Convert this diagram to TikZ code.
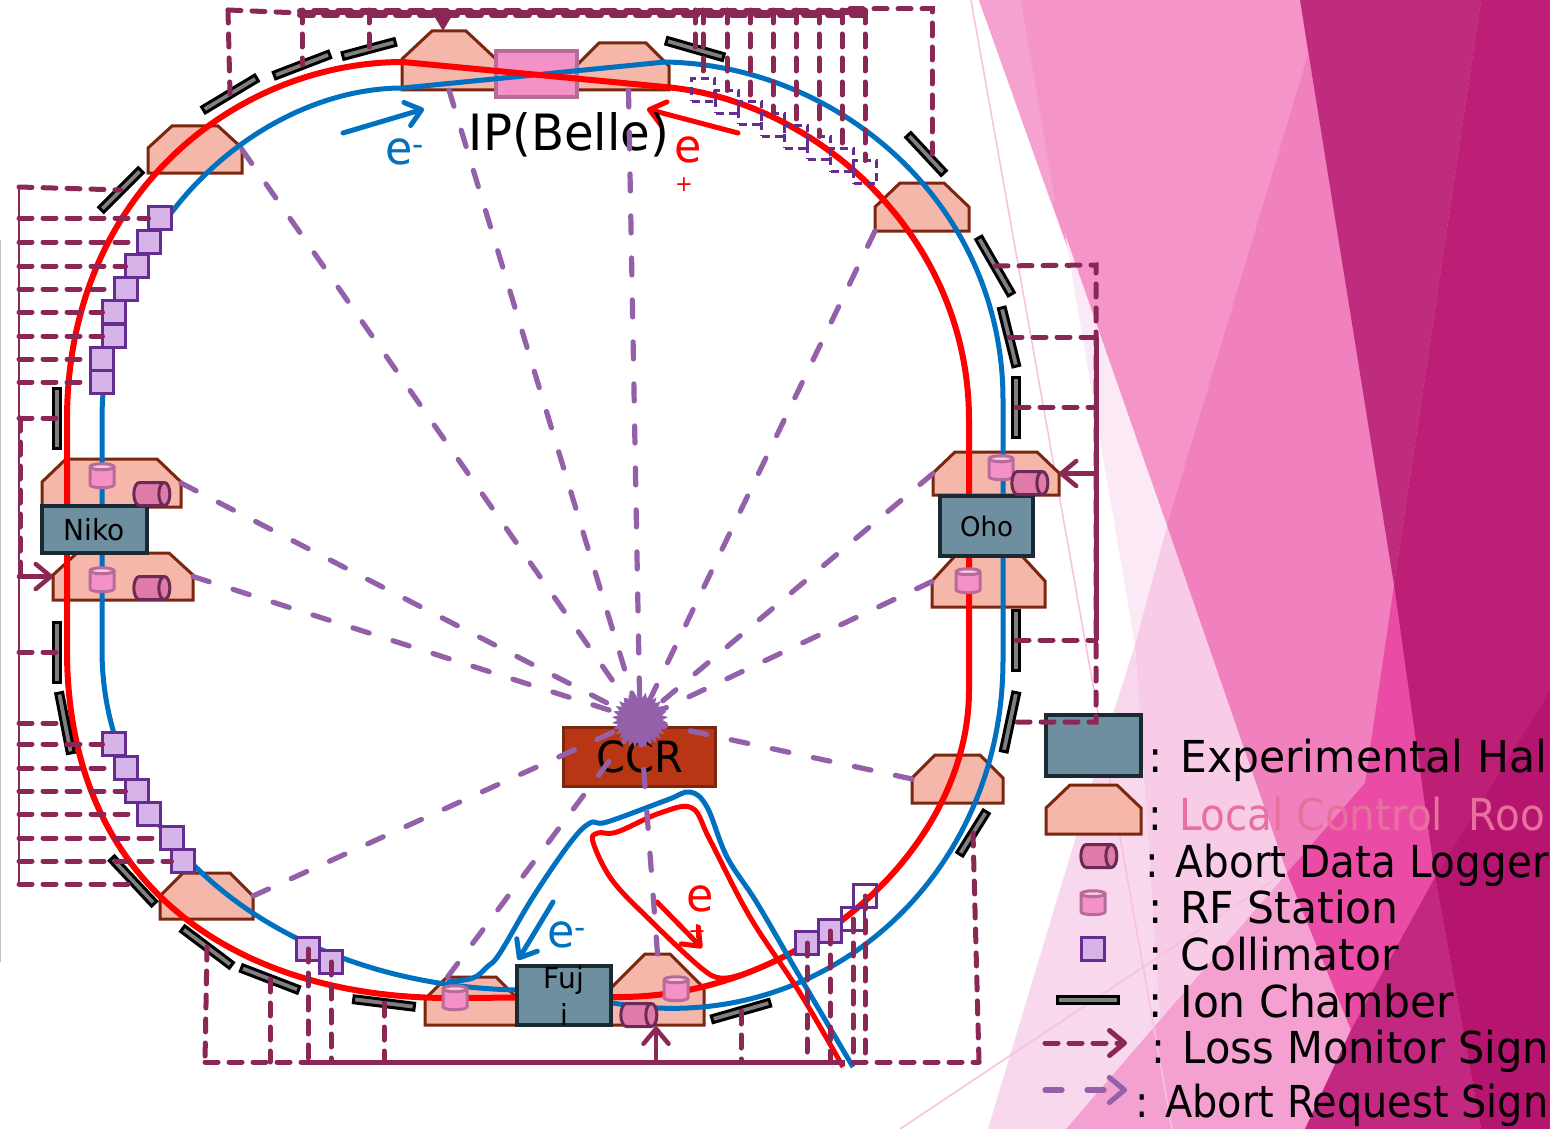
\documentclass[tikz,border=0pt]{standalone}
\usepackage{fontspec}
\setmainfont[FakeStretch=0.965]{DejaVu Sans}
\newfontfamily\keyabort[FakeStretch=0.905]{DejaVu Sans}
\newfontfamily\keyadl[FakeStretch=0.92]{DejaVu Sans}
\newfontfamily\keyloss[FakeStretch=0.945]{DejaVu Sans}
\usetikzlibrary{shapes.geometric,arrows.meta,positioning,calc}
\definecolor{lcrfill}{HTML}{F5B7A9}
\definecolor{lcrborder}{HTML}{7B2710}
\definecolor{hallfill}{HTML}{6E8FA0}
\definecolor{hallborder}{HTML}{1B2A32}
\definecolor{ccrfill}{HTML}{B93614}
\definecolor{rffill}{HTML}{F492C8}
\definecolor{rftop}{HTML}{F8C8DC}
\definecolor{rfborder}{HTML}{B86A9A}
\definecolor{adlfill}{HTML}{E07AA8}
\definecolor{adlborder}{HTML}{6B2A55}
\definecolor{cmfill}{HTML}{D6B4EA}
\definecolor{cmborder}{HTML}{662D91}
\definecolor{lossline}{HTML}{8B2755}
\definecolor{abortline}{HTML}{9460AA}
\definecolor{herblue}{HTML}{0070C0}
\definecolor{keypink}{HTML}{E8709F}
\definecolor{bgpink}{HTML}{F494C9}
\definecolor{bgsliver}{HTML}{F6A2D1}
\definecolor{bgrose}{HTML}{F180BE}
\definecolor{bgfaint}{HTML}{FBEAF5}
\definecolor{bgmid}{HTML}{F8CBE6}
\definecolor{bgpale}{HTML}{F8D8EC}
\definecolor{bglight}{HTML}{F4A0D0}
\definecolor{bgmagenta}{HTML}{EA4CA5}
\definecolor{bgwine}{HTML}{C22880}
\definecolor{bgplum}{HTML}{BF2C7E}
\definecolor{bgdeep}{HTML}{BC1F75}
\definecolor{bgdark}{HTML}{B5146F}
\definecolor{bgthin}{HTML}{F8C0E0}
\tikzset{
  lcroom/.style n args={4}{minimum width=#1pt,minimum height=#2pt,inner sep=0pt,outer sep=0pt,
    append after command={\pgfextra{\draw[draw=lcrborder,fill=lcrfill,line width=3pt]
      ([yshift=-#4pt]\tikzlastnode.north west) -- ([xshift=#3pt]\tikzlastnode.north west)
      -- ([xshift=-#3pt]\tikzlastnode.north east) -- ([yshift=-#4pt]\tikzlastnode.north east)
      -- (\tikzlastnode.south east) -- (\tikzlastnode.south west) -- cycle;}}},
  hall/.style={draw=hallborder,fill=hallfill,line width=3.5pt,inner sep=0pt,outer sep=0pt,
    align=center,font=\fontsize{29}{37}\selectfont},
  ionchamber/.style={draw=black,fill=gray,line width=3pt,minimum height=7pt,
    minimum width=60pt,inner sep=0pt,outer sep=0pt},
  collimator/.style={draw=cmborder,fill=cmfill,line width=3pt,minimum size=23pt,
    inner sep=0pt,outer sep=0pt},
  cmdashed/.style={collimator,fill=none,line width=2.5pt,dash pattern=on 8pt off 5pt},
  rfstation/.style={cylinder,shape border rotate=90,aspect=1,draw=rfborder,line width=3pt,
    cylinder uses custom fill,cylinder body fill=rffill,cylinder end fill=rftop,
    minimum height=24pt,minimum width=24pt,inner sep=3pt,outer sep=0pt},
  datalogger/.style={cylinder,aspect=1,draw=adlborder,line width=3pt,
    cylinder uses custom fill,cylinder body fill=adlfill,cylinder end fill=adlfill,
    minimum height=36pt,minimum width=23pt,inner sep=5.5pt,outer sep=0pt},
  redring/.style={draw=red,line width=6pt,line join=round},
  bluering/.style={draw=herblue,line width=5pt,line join=round},
  lossdash/.style={draw=lossline,line width=5pt,line cap=round,dash pattern=on 13pt off 11pt},
  lossbar/.style={draw=lossline,line width=5pt},
  abortdash/.style={draw=abortline,line width=5.2pt,line cap=round,dash pattern=on 17pt off 25pt},
  sigtip/.style={-{Straight Barb[round,length=15pt,width=25pt]},line cap=round},
  beamarrow/.style={line width=5pt,-{Straight Barb[round,length=15pt,width=24pt]},line cap=round},
  keytext/.style={anchor=base west,inner sep=0pt,font=\fontsize{44}{44}\selectfont},
  beamtext/.style={inner sep=0pt,font=\fontsize{46}{46}\selectfont}
}
\begin{document}
\begin{tikzpicture}[x=1pt,y=-1pt]
  \useasboundingbox (0,0) rectangle (1550,1129);
  \clip (0,0) rectangle (1550,1129);
  % background
  \fill[white] (0,0) rectangle (1550,1129);
  \draw[black!25,line width=1.5pt] (0.5,240) -- (0.5,962);
  \fill[bgrose] (1300,0) -- (1550,0) -- (1550,1129) -- (1305,1129) -- (1287,873) -- (1167,526) -- cycle;
  \fill[bgpink] (979,0) -- (1300,0) -- (1308,55) -- (1167,526) -- cycle;
  \fill[bgsliver] (979,0) -- (1021,0) -- (1055,202) -- (1051,202) -- cycle;
  \fill[bgrose] (1308,55) -- (1394,585) -- (1365,783) -- (1287,873) -- (1167,526) -- cycle;
  \fill[bgfaint] (1065,234) -- (1167,526) -- (1135,645) -- cycle;
  \fill[bgmid] (1167,526) -- (1135,645) -- (1160,1020) -- (1287,873) -- cycle;
  \fill[bgpale] (1135,645) -- (1111,720) -- (988,1129) -- (1066,1129) -- (1160,1020) -- cycle;
  \fill[bglight] (1287,873) -- (1066,1129) -- (1305,1129) -- (1351,1030) -- cycle;
  \fill[bgmagenta] (1394,585) -- (1435,877) -- (1351,1030) -- (1287,873) -- (1365,783) -- cycle;
  \fill[bgwine] (1435,877) -- (1481,1129) -- (1305,1129) -- (1351,1030) -- cycle;
  \fill[bgplum] (1300,0) -- (1481,0) -- (1394,585) -- cycle;
  \fill[bgdeep] (1481,0) -- (1550,0) -- (1550,690) -- (1435,877) -- (1394,585) -- cycle;
  \fill[bgdark] (1550,690) -- (1550,1129) -- (1481,1129) -- (1435,877) -- cycle;
  \draw[bgthin,line width=1.5pt] (971,0) -- (1172,1129);
  \draw[bgthin,line width=1.5pt] (900,1129) -- (1284,873);
  % local control rooms
  \node[lcroom={94}{59}{30}{28}] (lcrtopl) at (449,60.5) {};
  \node[lcroom={93}{47}{23}{23}] (lcrtopr) at (622.5,66.5) {};
  \node[lcroom={94}{47}{24}{22}] (lcrul) at (195,149.5) {};
  \node[lcroom={94}{48}{25}{24}] (lcrur) at (922,207) {};
  \node[lcroom={139}{48}{24}{23}] (lcrnikou) at (111.5,483) {};
  \node[lcroom={140}{47}{24}{22}] (lcrnikol) at (123,576.5) {};
  \node[lcroom={126}{43}{22}{21}] (lcrohou) at (996,473.5) {};
  \node[lcroom={113}{51}{23}{25}] (lcrohol) at (988.5,581.5) {};
  \node[lcroom={91}{48}{23}{23}] (lcrlr) at (957.5,779) {};
  \node[lcroom={93}{46}{23}{23}] (lcrll) at (206.5,896) {};
  \node[lcroom={93}{48}{22}{22}] (lcrfujil) at (471.5,1001) {};
  \node[lcroom={93}{71}{34}{34}] (lcrfujir) at (657.5,989.5) {};
  % central room and interaction point
  \node[draw=lcrborder,fill=ccrfill,line width=3pt,minimum width=152pt,minimum height=59pt,
    inner sep=0pt,outer sep=0pt,font=\fontsize{43}{43}\selectfont] (ccr) at (639.5,757) {CCR};
  \node[draw=rfborder,fill=rffill,line width=4pt,minimum width=81pt,minimum height=46pt,
    inner sep=0pt,outer sep=0pt] (ipbox) at (536,74.5) {};
  % rings
  \draw[bluering] (403,88) .. controls (260,88) and (102,225) .. (102,420) -- (102,650)
    .. controls (102,840) and (280,985) .. (517,990) -- (613,1003)
    .. controls (820,1040) and (1003,880) .. (1003,660) -- (1003,400)
    .. controls (1003,205) and (840,65) .. (665,62) -- cycle;
  \draw[redring] (403,62) .. controls (240,62) and (67,190) .. (67,420) -- (67,650)
    .. controls (67,890) and (240,998) .. (450,998) -- (613,997)
    .. controls (800,1000) and (969,850) .. (969,690) -- (969,420)
    .. controls (969,235) and (815,100) .. (665,87) -- cycle;
  \draw[redring,line width=5pt] plot[smooth,tension=.6] coordinates {(843,1067) (800,993) (750,917)
    (710,840) (692,808) (660,813) (617,832) (598,833) (593,842) (612,880) (650,920) (700,967)
    (720,978) (740,975)};
  \draw[bluering] plot[smooth,tension=.6] coordinates {(853,1067) (800,977) (757,903) (727,857)
    (707,807) (690,792) (667,800) (607,822) (590,823) (570,843) (533,897) (500,953) (487,967)
    (473,978) (447,982)};
  % halls
  \node[hall,minimum width=105pt,minimum height=47pt] (hallniko) at (94.5,529.5) {Niko};
  \node[hall,minimum width=93pt,minimum height=60pt,font=\fontsize{27}{27}\selectfont] (halloho) at (986.5,526) {Oho};
  \node[hall,minimum width=94pt,minimum height=59pt,text depth=0pt] (hallfuji) at (564,995.5) {Fuj\\i};
  % collimators
  \node[collimator] (cmul1) at (160,218) {};
  \node[collimator] (cmul2) at (149,242) {};
  \node[collimator] (cmul3) at (137,266) {};
  \node[collimator] (cmul4) at (126,289) {};
  \node[collimator] (cmul5) at (114,312) {};
  \node[collimator] (cmul6) at (114,336) {};
  \node[collimator] (cmul7) at (102,359) {};
  \node[collimator] (cmul8) at (102,382) {};
  \node[collimator] (cmll1) at (114,744) {};
  \node[collimator] (cmll2) at (126,768) {};
  \node[collimator] (cmll3) at (137,791) {};
  \node[collimator] (cmll4) at (149,814) {};
  \node[collimator] (cmll5) at (172,838) {};
  \node[collimator] (cmll6) at (183,861) {};
  \node[collimator] (cmbl1) at (308,949) {};
  \node[collimator] (cmbl2) at (331,962) {};
  \node[collimator] (cmbr1) at (807,943) {};
  \node[collimator] (cmbr2) at (830,931) {};
  \node[collimator,fill=none] (cmbr3) at (853,919) {};
  \node[collimator,fill=none] (cmbr4) at (865,896) {};
  \node[cmdashed] (cmur1) at (703,90) {};
  \node[cmdashed] (cmur2) at (727,102) {};
  \node[cmdashed] (cmur3) at (750,113) {};
  \node[cmdashed] (cmur4) at (773,125) {};
  \node[cmdashed] (cmur5) at (796,137) {};
  \node[cmdashed] (cmur6) at (819,148) {};
  \node[cmdashed] (cmur7) at (842,160) {};
  \node[cmdashed] (cmur8) at (865,172) {};
  % ion chambers
  \node[ionchamber,minimum width=62pt,rotate=31] (ic1) at (230,94) {};
  \node[ionchamber,minimum width=59pt,rotate=21] (ic2) at (302,65) {};
  \node[ionchamber,minimum width=54pt,rotate=15] (ic3) at (369,49) {};
  \node[ionchamber,minimum width=56pt,rotate=45] (ic4) at (121,190) {};
  \node[ionchamber,minimum width=59pt,rotate=-16] (ic5) at (695,49) {};
  \node[ionchamber,minimum width=52pt,rotate=-47] (ic6) at (926,154) {};
  \node[ionchamber,minimum width=65pt,rotate=-60] (ic7) at (995,266) {};
  \node[ionchamber,rotate=-76] (ic8) at (1009,337) {};
  \node[ionchamber,rotate=90] (ic9) at (1016,407) {};
  \node[ionchamber,rotate=90] (ic10) at (1016,640) {};
  \node[ionchamber,rotate=78] (ic11) at (1010,722) {};
  \node[ionchamber,minimum width=50pt,rotate=58] (ic12) at (973,833) {};
  \node[ionchamber,rotate=16] (ic13) at (741,1011) {};
  \node[ionchamber,minimum width=61pt,rotate=-7] (ic14) at (384,1003) {};
  \node[ionchamber,minimum width=61pt,rotate=-21] (ic15) at (270,979) {};
  \node[ionchamber,minimum width=61pt,rotate=-37] (ic16) at (207,947) {};
  \node[ionchamber,minimum width=62pt,rotate=-47] (ic17) at (133,881) {};
  \node[ionchamber,rotate=90] (ic18) at (57,418) {};
  \node[ionchamber,rotate=90] (ic19) at (57,652) {};
  \node[ionchamber,minimum width=61pt,rotate=-79] (ic20) at (65,723) {};
  % rf stations and abort data loggers
  \node[rfstation] (rfnikou) at (102,479) {};
  \node[rfstation] (rfnikol) at (102,583) {};
  \node[rfstation] (rfohou) at (1001,471) {};
  \node[rfstation] (rfohol) at (968,584) {};
  \node[rfstation] (rffujil) at (455,1001) {};
  \node[rfstation] (rffujir) at (676,992) {};
  \node[datalogger] (adlnikou) at (146,494) {};
  \node[datalogger] (adlnikol) at (146,588) {};
  \node[datalogger] (adloho) at (1024,483) {};
  \node[datalogger] (adlfuji) at (633,1015) {};
  % beam labels
  \coordinate (earrowa) at (343,133);
  \coordinate (earrowb) at (424,109);
  \coordinate (parrowa) at (738,133);
  \coordinate (parrowb) at (647,109);
  \coordinate (earrowc) at (553,902);
  \coordinate (earrowd) at (518,960);
  \coordinate (parrowc) at (657,902);
  \coordinate (parrowd) at (702,948);
  \draw[herblue,beamarrow] (earrowa) -- (earrowb);
  \draw[red,beamarrow] (parrowa) -- (parrowb);
  \draw[herblue,beamarrow] (earrowc) -- (earrowd);
  \draw[red,beamarrow] (parrowc) -- (parrowd);
  \node[beamtext,text=herblue] (eminus) at (405,152) {e\textsuperscript{-}};
  \node[beamtext,text=red] (eplus) at (688,150) {e};
  \node[inner sep=0pt,text=red,font=\fontsize{22}{22}\selectfont] (eplussign) at (684,185) {+};
  \node[beamtext,text=herblue] (eminusb) at (567,935) {e\textsuperscript{-}};
  \node[beamtext,text=red] (eplusb) at (700,899) {e};
  \node[inner sep=0pt,text=red,font=\fontsize{22}{22}\selectfont] (eplusbsign) at (697,932) {+};
  \node[inner sep=0pt,font=\fontsize{50}{50}\selectfont] (ipname) at (569,135) {IP(Belle)};
  % legend
  \node[hall,minimum width=95pt,minimum height=61pt] (hallkey) at (1093.5,745.5) {};
  \node[lcroom={95}{49}{24}{23}] (lcrkey) at (1093.5,809.5) {};
  \node[datalogger] (adlkey) at (1093,856) {};
  \node[rfstation] (rfkey) at (1093,906) {};
  \node[collimator] (cmkey) at (1093,949) {};
  \node[ionchamber,minimum width=61pt] (ickey) at (1088,1000) {};
  \coordinate (losskeya) at (1045,1043);
  \coordinate (losskeyb) at (1127,1043);
  \coordinate (abortkeya) at (1045,1090);
  \coordinate (abortkeyb) at (1127,1090);
  \draw[lossdash,sigtip] (losskeya) -- (losskeyb);
  \draw[abortdash,sigtip] (abortkeya) -- (abortkeyb);
  \node[keytext] (textexp) at (1148,772) {: Experimental Hal};
  \node[keytext] (textlcr) at (1148,830) {\keyadl : \textcolor{keypink}{Local Control~~Roo}};
  \node[keytext] (textadl) at (1145,877) {\keyadl : Abort Data Logger};
  \node[keytext] (textrf) at (1148,923) {: RF Station};
  \node[keytext] (textcm) at (1148,970) {: Collimator};
  \node[keytext] (textic) at (1148,1017) {: Ion Chamber};
  \node[keytext] (textloss) at (1151,1063) {\keyloss : Loss Monitor Sign};
  \node[keytext] (textabort) at (1135,1117) {\keyabort : Abort Request Sign};
  % abort request signals
  \node[star,star points=30,star point ratio=1.25,fill=abortline,minimum size=56pt,inner sep=0pt] (ccrblot) at (640,720) {};
  \draw[abortdash] (lcrul.east) -- (ccrblot.center);
  \draw[abortdash] (lcrtopl.south) -- (ccrblot.center);
  \draw[abortdash] ([xshift=6pt]lcrtopr.south) -- (ccrblot.center);
  \draw[abortdash] (lcrur.south west) -- (ccrblot.center);
  \draw[abortdash] (lcrnikou.east) -- (ccrblot.center);
  \draw[abortdash] (lcrnikol.east) -- (ccrblot.center);
  \draw[abortdash] (lcrohou.west) -- (ccrblot.center);
  \draw[abortdash] (lcrohol.west) -- (ccrblot.center);
  \draw[abortdash] (lcrlr.west) -- (ccrblot.center);
  \draw[abortdash] (lcrll.east) -- (ccrblot.center);
  \draw[abortdash] ([xshift=-24pt]lcrfujil.north) -- (ccrblot.center);
  \draw[abortdash] (lcrfujir.north) -- (ccrblot.center);
  % loss monitor signals, left side
  \coordinate (leftbus) at (19,187);
  \coordinate (leftbusend) at (19,884);
  \draw[lossline,line width=2pt] (leftbus) -- (leftbusend);
  \draw[lossdash] ([xshift=1pt]leftbus |- ic18) -- ([xshift=1pt]leftbus |- lcrnikol);
  \draw[lossdash] (leftbus) -- (ic4.center);
  \draw[lossdash] (leftbus |- cmul1) -- (cmul1);
  \draw[lossdash] (leftbus |- cmul2) -- (cmul2);
  \draw[lossdash] (leftbus |- cmul3) -- (cmul3);
  \draw[lossdash] (leftbus |- cmul4) -- (cmul4);
  \draw[lossdash] (leftbus |- cmul5) -- (cmul5);
  \draw[lossdash] (leftbus |- cmul6) -- (cmul6);
  \draw[lossdash] (leftbus |- cmul7) -- (cmul7);
  \draw[lossdash] (leftbus |- cmul8) -- (cmul8);
  \draw[lossdash] (leftbus |- ic18) -- (ic18.center);
  \draw[lossdash] (leftbus |- ic19) -- (ic19.center);
  \draw[lossdash] (leftbus |- ic20) -- (ic20.center);
  \draw[lossdash] (leftbus |- cmll1) -- (cmll1);
  \draw[lossdash] (leftbus |- cmll2) -- (cmll2);
  \draw[lossdash] (leftbus |- cmll3) -- (cmll3);
  \draw[lossdash] (leftbus |- cmll4) -- (cmll4);
  \draw[lossdash] (leftbus |- cmll5) -- (cmll5);
  \draw[lossdash] (leftbus |- cmll6) -- (cmll6);
  \draw[lossdash] (leftbusend) -- (leftbusend -| ic17);
  \draw[lossline,line width=4.5pt,sigtip] (leftbus |- lcrnikol) -- (lcrnikol.west);
  % loss monitor signals, top
  \coordinate (topbus) at (228,10);
  \coordinate (topbarl) at (300,13);
  \coordinate (topbarr) at (865,13);
  \coordinate (topright) at (850,9);
  \draw[lossdash] (topbus) -- (topbarl);
  \draw[lossbar] (topbarl) -- (topbarr);
  \draw[lossdash,line width=6pt] ([yshift=-2pt]topbarl) -- ([yshift=-2pt]topbarr);
  \draw[lossdash,line width=6pt,dash phase=10pt] ([yshift=2pt]topbarl) -- ([yshift=2pt]topbarr);
  \draw[lossdash] (topbus) -- (ic1.center);
  \draw[lossdash] (topbus -| ic2) -- (ic2.center);
  \draw[lossdash] (topbus -| ic3) -- (ic3.center);
  \draw[lossdash] (topbus -| ic5) -- (ic5.center);
  \draw[lossdash] (topbus -| cmur1) -- (cmur1);
  \draw[lossdash] (topbus -| cmur2) -- (cmur2);
  \draw[lossdash] (topbus -| cmur3) -- (cmur3);
  \draw[lossdash] (topbus -| cmur4) -- (cmur4);
  \draw[lossdash] (topbus -| cmur5) -- (cmur5);
  \draw[lossdash] (topbus -| cmur6) -- (cmur6);
  \draw[lossdash] (topbus -| cmur7) -- (cmur7);
  \draw[lossdash] (topbus -| cmur8) -- (cmur8);
  \draw[lossdash] (topright) -| ([xshift=6pt]ic6.center);
  \draw[lossline,line width=4.5pt,-{Triangle[length=17pt,width=19pt]}] ([xshift=-6pt]topbus -| lcrtopl.north) -- ([xshift=-6pt]lcrtopl.north);
  % loss monitor signals, right side
  \coordinate (rightbus) at (1096,265);
  \coordinate (rightbusend) at (1096,722);
  \draw[lossdash] (ic7.center) -- (rightbus) -- (rightbusend) -- (ic11.center);
  \draw[lossbar] (rightbus |- ic8) -- (rightbus |- ic10);
  \draw[lossdash] (ic8.center) -- (rightbus |- ic8);
  \draw[lossdash] (ic9.center) -- (rightbus |- ic9);
  \draw[lossdash] (ic10.center) -- (rightbus |- ic10);
  \draw[lossline,line width=4.5pt,sigtip] (rightbus |- lcrohou.east) -- (lcrohou.east);
  % loss monitor signals, bottom
  \coordinate (botbus) at (205,1062);
  \coordinate (botbarl) at (307,1062);
  \coordinate (botbarr) at (845,1062);
  \coordinate (botright) at (979,1062);
  \draw[lossdash] (botbus) -- (botright);
  \draw[lossbar] (botbarl) -- (botbarr);
  \draw[lossdash] (ic16.center) -- (botbus);
  \draw[lossdash] (ic15.center) -- (ic15 |- botbus);
  \draw[lossdash] (cmbl1.center) -- (cmbl1 |- botbus);
  \draw[lossdash] (cmbl2.center) -- (cmbl2 |- botbus);
  \draw[lossdash] (ic14.center) -- (ic14 |- botbus);
  \draw[lossdash] (ic13.center) -- (ic13 |- botbus);
  \draw[lossdash] (cmbr1.center) -- (cmbr1 |- botbus);
  \draw[lossdash] (cmbr2.center) -- (cmbr2 |- botbus);
  \draw[lossdash] (cmbr3.center) -- (cmbr3 |- botbus);
  \draw[lossdash] (cmbr4.center) -- (cmbr4 |- botbus);
  \draw[lossdash] (ic12.center) -- (botright);
  \draw[lossline,line width=4.5pt,sigtip] ([xshift=23pt]adlfuji.center |- botbus) -- ([xshift=23pt]adlfuji.south);
\end{tikzpicture}
\end{document}
